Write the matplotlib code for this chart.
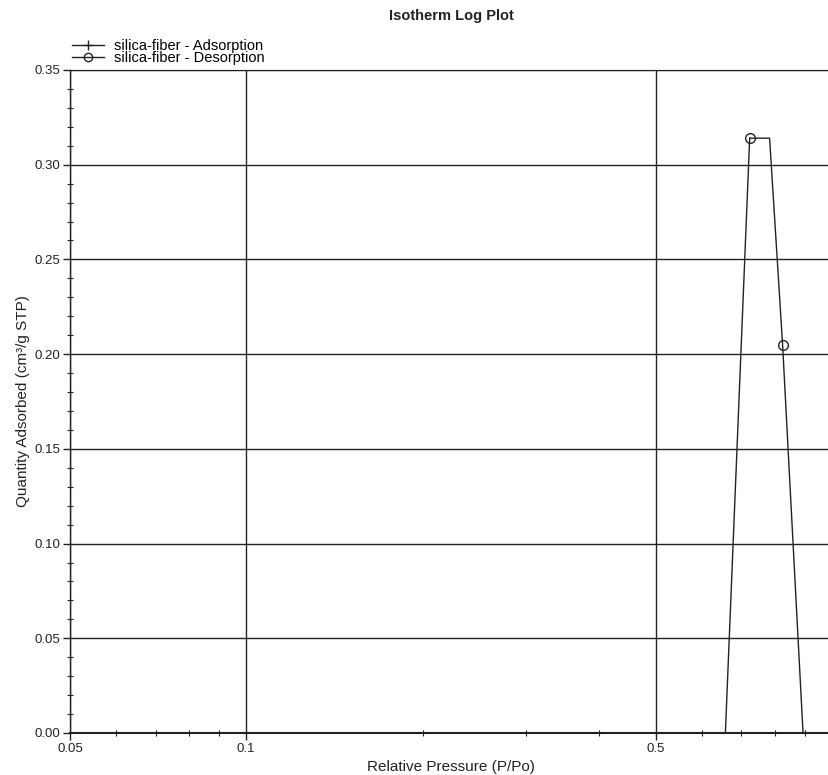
import matplotlib
matplotlib.use('Agg')
import matplotlib.pyplot as plt
from matplotlib.lines import Line2D
from matplotlib.ticker import FixedLocator, MultipleLocator, FuncFormatter

# Isotherm data
ads_p = [0.658, 0.724]
ads_q = [0.000, 0.314]
des_p = [0.724, 0.783, 0.824, 0.893]
des_q = [0.314, 0.314, 0.205, 0.000]
des_marked = [0, 2]

x_major = [0.05, 0.1, 0.5]
x_minor = [0.06, 0.07, 0.08, 0.09, 0.2, 0.3, 0.4, 0.6, 0.7, 0.8, 0.9]

plt.rcParams['font.family'] = ['Liberation Sans', 'DejaVu Sans']
ink = '#222222'

fig = plt.figure(figsize=(8.29, 7.75), dpi=100)
ax = fig.add_axes([0.0844, 0.0542, 0.919, 0.8555])

ax.plot(ads_p, ads_q, color=ink, lw=1.0)
ax.plot(des_p, des_q, color=ink, lw=1.0, marker='o', markersize=7,
        markerfacecolor='none', markeredgecolor=ink, markevery=des_marked)

ax.set_xscale('log')
ax.set_xlim(0.05, 1.0)
ax.set_ylim(0, 0.35)

ax.xaxis.set_major_locator(FixedLocator(x_major))
ax.xaxis.set_minor_locator(FixedLocator(x_minor))
ax.xaxis.set_major_formatter(FuncFormatter(lambda v, p: '%g' % v))
ax.xaxis.set_minor_formatter(FuncFormatter(lambda v, p: ''))
ax.yaxis.set_major_locator(MultipleLocator(0.05))
ax.yaxis.set_minor_locator(MultipleLocator(0.01))
ax.yaxis.set_major_formatter(FuncFormatter(lambda v, p: '%.2f' % v))

ax.grid(True, which='major', color=ink, lw=1.0)
ax.set_axisbelow(True)

ax.spines['right'].set_visible(False)
ax.spines['top'].set_color(ink)
ax.spines['left'].set_color(ink)
ax.spines['bottom'].set_color(ink)
ax.spines['left'].set_linewidth(1.0)
ax.spines['bottom'].set_linewidth(1.5)

ax.tick_params(which='major', direction='out', length=5, width=1,
               colors=ink, labelsize=9.5, pad=2)
ax.tick_params(which='minor', direction='inout', length=5, width=0.8,
               colors=ink)

ax.set_xlabel('Relative Pressure (P/Po)', fontsize=11, color=ink, labelpad=4)
ax.set_ylabel('Quantity Adsorbed (cm³/g STP)', fontsize=11, color=ink,
              labelpad=3)
fig.text(0.545, 0.979, 'Isotherm Log Plot', ha='center', va='center',
         fontsize=10.5, fontweight='bold', color=ink)

handles = [
    Line2D([], [], color=ink, lw=1.0, marker='+', markersize=7),
    Line2D([], [], color=ink, lw=1.0, marker='o', markersize=6,
           markerfacecolor='none'),
]
labels = ['silica-fiber - Adsorption', 'silica-fiber - Desorption']
fig.legend(handles, labels, loc='upper left', bbox_to_anchor=(0.087, 0.950),
           frameon=False, fontsize=10.5, handlelength=2.2, handletextpad=0.7,
           labelspacing=-0.1, borderaxespad=0, borderpad=0)

fig.savefig('out.png', dpi=100)
